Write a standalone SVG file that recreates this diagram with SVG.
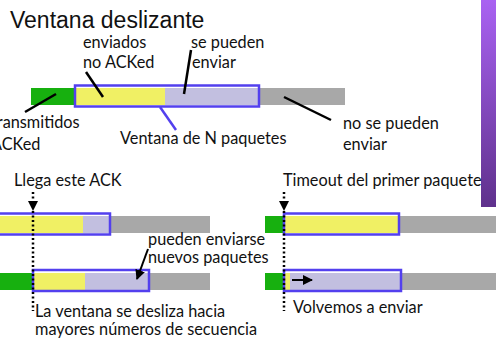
<svg xmlns="http://www.w3.org/2000/svg" width="496" height="341" viewBox="0 0 496 341">
<defs>
<linearGradient id="pg" x1="0" y1="0" x2="0" y2="1">
<stop offset="0" stop-color="#a962f2"/>
<stop offset="1" stop-color="#5f318c"/>
</linearGradient>
<marker id="ah" viewBox="0 0 10 10" refX="9" refY="5" markerWidth="5" markerHeight="5" orient="auto" markerUnits="strokeWidth">
<path d="M0,0 L10,5 L0,10 z" fill="#000"/>
</marker>
</defs>
<style>
.t{font-family:Lato,"Open Sans",sans-serif;font-size:16.3px;fill:#111}
.h{font-family:"Liberation Sans",Arial,sans-serif;font-size:23px;fill:#111}
.g{fill:#17b00f}.y{fill:#f0f064}.l{fill:#c2bfe0}.r{fill:#a8a8a8}
.w{fill:none;stroke:#5340ee;stroke-width:2.5}
.k{stroke:#000;stroke-width:2.5;fill:none}
.d{stroke:#000;stroke-width:2.5;stroke-dasharray:2 2.5;fill:none}
</style>
<rect x="481" y="0" width="15" height="207" fill="url(#pg)"/>
<text class="h" x="10" y="28">Ventana deslizante</text>

<g id="row1">
<rect class="g" x="31" y="88" width="45" height="17"/>
<rect class="y" x="75" y="88" width="90" height="17"/>
<rect class="l" x="165" y="88" width="94" height="17"/>
<rect class="r" x="258" y="88" width="87" height="17"/>
<rect class="w" x="75" y="85.5" width="184" height="21"/>
</g>
<g id="row2L">
<rect class="y" x="-10" y="216" width="93" height="17"/>
<rect class="l" x="83" y="216" width="27" height="17"/>
<rect class="r" x="109" y="216" width="101" height="17"/>
<rect class="w" x="-6" y="213.5" width="116" height="21"/>
</g>
<g id="row3L">
<rect class="g" x="-5" y="273" width="39" height="17"/>
<rect class="y" x="33" y="273" width="52" height="17"/>
<rect class="l" x="85" y="273" width="64" height="17"/>
<rect class="r" x="148" y="273" width="62" height="17"/>
<rect class="w" x="33" y="270" width="116" height="21"/>
</g>
<g id="row2R">
<rect class="g" x="265" y="216" width="20" height="17"/>
<rect class="y" x="284" y="216" width="115" height="17"/>
<rect class="r" x="398" y="216" width="98" height="17"/>
<rect class="w" x="284" y="213.5" width="115" height="21"/>
</g>
<g id="row3R">
<rect class="g" x="265" y="273" width="20" height="17"/>
<rect class="y" x="284" y="273" width="6" height="17"/>
<rect class="l" x="290" y="273" width="111" height="17"/>
<rect class="r" x="400" y="273" width="96" height="17"/>
<rect class="w" x="284" y="270" width="117" height="21"/>
</g>

<g id="connectors">
<line class="k" x1="86" y1="72" x2="103" y2="97"/>
<line class="k" x1="191" y1="50" x2="184" y2="94"/>
<line class="k" x1="25" y1="112" x2="56" y2="94"/>
<line x1="160" y1="107" x2="176" y2="130" stroke="#5340ee" stroke-width="2.5"/>
<line class="k" x1="284" y1="97" x2="331" y2="120"/>
<line class="d" x1="33" y1="192" x2="33" y2="203"/>
<path d="M28,201 L38,201 L33,211 z" fill="#000"/>
<line class="d" x1="33" y1="211" x2="33" y2="311"/>
<line class="d" x1="284" y1="192" x2="284" y2="203"/>
<path d="M279,201 L289,201 L284,211 z" fill="#000"/>
<line class="d" x1="284" y1="211" x2="284" y2="311"/>
<line x1="148" y1="249" x2="137" y2="279" stroke="#000" stroke-width="2" marker-end="url(#ah)"/>
<line x1="292" y1="280" x2="312" y2="280" stroke="#000" stroke-width="2" marker-end="url(#ah)"/>
</g>

<g id="labels">
<text class="t" x="83" y="48">enviados</text>
<text class="t" x="83" y="68">no ACKed</text>
<text class="t" x="191" y="48">se pueden</text>
<text class="t" x="192" y="68">enviar</text>
<text class="t" x="-9" y="128">transmitidos</text>
<text class="t" x="-9" y="150">ACKed</text>
<text class="t" x="120" y="144">Ventana de N paquetes</text>
<text class="t" x="343" y="129">no se pueden</text>
<text class="t" x="343" y="150">enviar</text>
<text class="t" x="14" y="186">Llega este ACK</text>
<text class="t" x="283" y="186">Timeout del primer paquete</text>
<text class="t" x="148" y="245">pueden enviarse</text>
<text class="t" x="148" y="263">nuevos paquetes</text>
<text class="t" x="35" y="317">La ventana se desliza hacia</text>
<text class="t" x="35" y="335">mayores números de secuencia</text>
<text class="t" x="293" y="313">Volvemos a enviar</text>
</g>
</svg>
